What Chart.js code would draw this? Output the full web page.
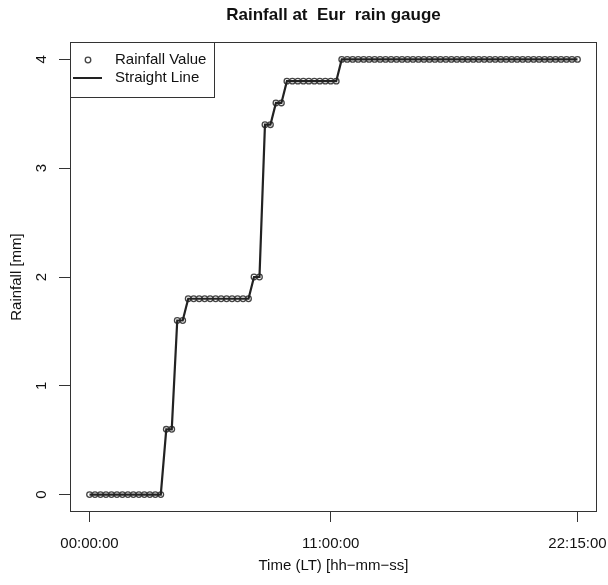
<!DOCTYPE html>
<html>
<head>
<meta charset="utf-8">
<script src="https://cdn.jsdelivr.net/npm/chart.js@4/dist/chart.umd.min.js"></script>
<style>
  html, body { margin: 0; padding: 0; background: #fff; }
  #wrap { width: 608px; height: 585px; }
</style>
</head>
<body>
<div id="wrap"><canvas id="c" width="608" height="585"></canvas></div>
<script>
// ---- data (15-minute samples, cumulative rainfall in mm) ----
const chartTitle = "Rainfall at  Eur  rain gauge";
const xAxisTitle = "Time (LT) [hh\u2212mm\u2212ss]";
const yAxisTitle = "Rainfall [mm]";
const seriesLabels = ["Rainfall Value", "Straight Line"];
const stepMinutes = 15;
const rainfall = [
  0,0,0,0,0,0,0,0,0,0,0,0,0,0,
  0.6,0.6,
  1.6,1.6,
  1.8,1.8,1.8,1.8,1.8,1.8,1.8,1.8,1.8,1.8,1.8,1.8,
  2.0,2.0,
  3.4,3.4,
  3.6,3.6,
  3.8,3.8,3.8,3.8,3.8,3.8,3.8,3.8,3.8,3.8,
  4,4,4,4,4,4,4,4,4,4,4,4,4,4,4,4,4,4,4,4,4,4,
  4,4,4,4,4,4,4,4,4,4,4,4,4,4,4,4,4,4,4,4,4,4
];
const timeMinutes = rainfall.map((_, i) => i * stepMinutes);
const xTickMinutes = [0, 660, 1335];
const xTickLabels = ["00:00:00", "11:00:00", "22:15:00"];
const yTicks = [0, 1, 2, 3, 4];

const points = timeMinutes.map((t, i) => ({ x: t, y: rainfall[i] }));

const xSpan = xTickMinutes[xTickMinutes.length - 1] - xTickMinutes[0];
const ySpan = 4;
const FONT = "'Liberation Sans', Arial, sans-serif";
const INK = "#222";

const framePlugin = {
  id: 'framePlugin',
  afterDraw(chart) {
    const ctx = chart.ctx;
    const a = chart.chartArea;
    ctx.save();
    // frame
    ctx.strokeStyle = "#333";
    ctx.lineWidth = 1;
    ctx.strokeRect(a.left + 0.5, a.top + 0.5, a.right - a.left - 1, a.bottom - a.top - 1);
    // title
    ctx.fillStyle = "#111";
    ctx.textAlign = "center";
    ctx.textBaseline = "middle";
    ctx.font = "bold 17px " + FONT;
    ctx.fillText(chartTitle, (a.left + a.right) / 2, 15);
    // x title
    ctx.font = "15px " + FONT;
    ctx.fillText(xAxisTitle, (a.left + a.right) / 2, 566);
    // y title
    ctx.save();
    ctx.translate(17, (a.top + a.bottom) / 2);
    ctx.rotate(-Math.PI / 2);
    ctx.fillText(yAxisTitle, 0, 0);
    ctx.restore();
    // legend
    const lx = a.left, ly = a.top, lw = 144, lh = 55;
    ctx.fillStyle = "#fff";
    ctx.fillRect(lx + 1, ly + 1, lw - 1, lh - 1);
    ctx.strokeStyle = "#333";
    ctx.strokeRect(lx + 0.5, ly + 0.5, lw, lh);
    ctx.beginPath();
    ctx.arc(lx + 18, ly + 18, 2.8, 0, Math.PI * 2);
    ctx.strokeStyle = "#444";
    ctx.lineWidth = 1.3;
    ctx.stroke();
    ctx.beginPath();
    ctx.moveTo(lx + 3, ly + 36);
    ctx.lineTo(lx + 32, ly + 36);
    ctx.strokeStyle = INK;
    ctx.lineWidth = 2;
    ctx.stroke();
    ctx.fillStyle = "#111";
    ctx.textAlign = "left";
    ctx.font = "15px " + FONT;
    ctx.fillText(seriesLabels[0], lx + 45, ly + 18);
    ctx.fillText(seriesLabels[1], lx + 45, ly + 36);
    ctx.restore();
  }
};

new Chart(document.getElementById('c'), {
  type: 'scatter',
  data: {
    datasets: [
      {
        label: seriesLabels[1],
        data: points,
        showLine: true,
        borderColor: INK,
        borderWidth: 2.2,
        pointRadius: 0,
        tension: 0,
        order: 0
      },
      {
        label: seriesLabels[0],
        data: points,
        showLine: false,
        pointRadius: 2.8,
        pointBorderColor: "#444",
        pointBackgroundColor: "rgba(0,0,0,0)",
        pointBorderWidth: 1.3,
        order: 1
      }
    ]
  },
  options: {
    responsive: false,
    animation: false,
    layout: { padding: { top: 42, right: 11, left: 0, bottom: 0 } },
    plugins: {
      legend: { display: false },
      title: { display: false },
      tooltip: { enabled: false }
    },
    scales: {
      x: {
        type: 'linear',
        min: xTickMinutes[0] - 0.04 * xSpan,
        max: xTickMinutes[xTickMinutes.length - 1] + 0.04 * xSpan,
        afterBuildTicks(scale) { scale.ticks = xTickMinutes.map(v => ({ value: v })); },
        afterFit(scale) { scale.height = 73; scale.paddingLeft = 0; scale.paddingRight = 0; },
        grid: { display: true, drawOnChartArea: false, drawTicks: true, tickLength: 10, color: "#333", lineWidth: 1 },
        border: { display: false },
        ticks: {
          autoSkip: false,
          maxRotation: 0,
          padding: 13,
          color: "#111",
          font: { family: FONT, size: 15 },
          callback(v) { const k = xTickMinutes.indexOf(v); return k >= 0 ? xTickLabels[k] : ''; }
        }
      },
      y: {
        type: 'linear',
        min: -0.04 * ySpan,
        max: ySpan * 1.04,
        afterBuildTicks(scale) { scale.ticks = yTicks.map(v => ({ value: v })); },
        afterFit(scale) { scale.width = 70; scale.paddingTop = 0; scale.paddingBottom = 0; },
        grid: { display: true, drawOnChartArea: false, drawTicks: true, tickLength: 11, color: "#333", lineWidth: 1 },
        border: { display: false },
        ticks: {
          autoSkip: false,
          minRotation: 90,
          maxRotation: 90,
          crossAlign: 'center',
          padding: 13,
          color: "#111",
          font: { family: FONT, size: 15 },
          callback(v) { return String(v); }
        }
      }
    }
  },
  plugins: [framePlugin]
});
</script>
</body>
</html>
